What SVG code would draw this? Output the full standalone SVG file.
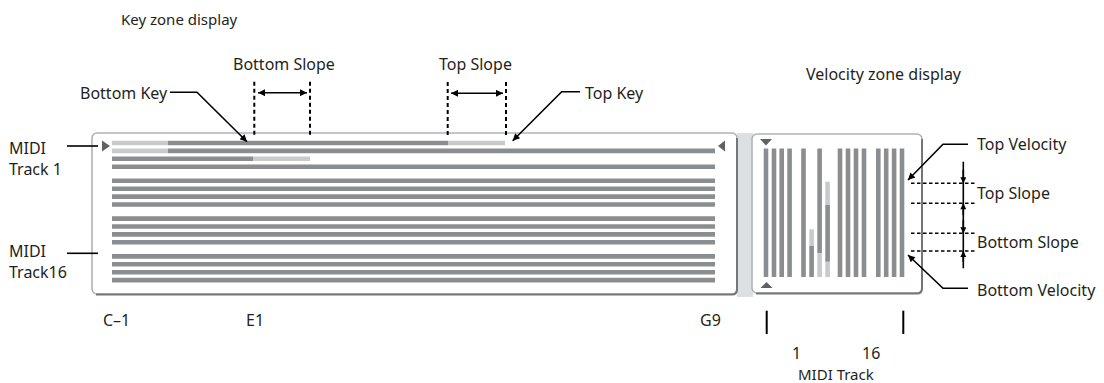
<svg xmlns="http://www.w3.org/2000/svg" width="1104" height="383" viewBox="0 0 1104 383">
<style>
text{font-family:"Noto Sans","Open Sans",sans-serif;font-size:16px;fill:#231f20}
.t{font-size:15px}
.dk{stroke:#8a8e90;stroke-width:4.6;fill:none}
.lt{stroke:#c7cbcc;stroke-width:4.6;fill:none}
.vdk{stroke:#8a8e90;stroke-width:4.6;fill:none}
.vlt{stroke:#c7cbcc;stroke-width:4.6;fill:none}
.lead{stroke:#000;stroke-width:1.6;fill:none}
.dv{stroke:#000;stroke-width:2;stroke-dasharray:4 3;fill:none}
.dh{stroke:#000;stroke-width:1.4;stroke-dasharray:3.5 2.5;fill:none}
.tick{stroke:#000;stroke-width:2}
.frame{fill:#fff;stroke:#b0b3b5;stroke-width:1.6}
.shadow{fill:none;stroke:#74777a;stroke-width:2}
.tri{fill:#5e6264}
</style>
<defs>
<marker id="ah" viewBox="0 0 10 10" refX="10" refY="5" markerUnits="userSpaceOnUse" markerWidth="9" markerHeight="7" orient="auto-start-reverse">
<path d="M0,0 L10,5 L0,10 z" fill="#000"/>
</marker>
<marker id="ahs" viewBox="0 0 10 10" refX="10" refY="5" markerUnits="userSpaceOnUse" markerWidth="7" markerHeight="6" orient="auto-start-reverse">
<path d="M0,0 L10,5 L0,10 z" fill="#000"/>
</marker>
</defs>

<!-- titles -->
<text id="title-key" class="t" x="121" y="25">Key zone display</text>
<text id="title-vel" x="806" y="80">Velocity zone display</text>

<!-- separator strip -->
<rect x="737" y="133" width="16" height="164" fill="#dde0e2"/>

<!-- key zone panel -->
<g id="keyzone-panel">
<rect class="frame" x="92" y="133" width="645" height="161" rx="5"/>
<path class="shadow" d="M96,294.5 H732 Q737,294.5 737,289.5 V138"/>
<path class="tri" d="M102,140.5 L110,146 L102,151.5 z"/>
<path class="tri" d="M718,146 L725,140.5 L725,151.5 z"/>
<g id="key-rows">
<path class="lt" d="M112,143 H168 M448,143 H505"/>
<path class="dk" d="M168,143 H448"/>
<path class="lt" d="M112,150.9 H168"/>
<path class="dk" d="M168,150.9 H715"/>
<path class="dk" d="M112,158.8 H253"/>
<path class="lt" d="M253,158.8 H310"/>
<path class="dk" d="M112,166.7 H715"/>
<path class="dk" d="M112,180.8 H715 M112,188.7 H715 M112,196.6 H715 M112,204.5 H715"/>
<path class="dk" d="M112,218.6 H715 M112,226.5 H715 M112,234.4 H715 M112,242.3 H715"/>
<path class="dk" d="M112,256.4 H715 M112,264.3 H715 M112,272.2 H715 M112,280.1 H715"/>
</g>
</g>

<!-- velocity zone panel -->
<g id="velocity-panel">
<rect class="frame" x="752" y="134" width="170" height="159" rx="5"/>
<path class="shadow" d="M756,293.5 H917 Q922,293.5 922,288.5 V139"/>
<path class="tri" d="M760,139 L772,139 L766,145.5 z"/>
<path class="tri" d="M760.5,288 L772.5,288 L766.5,282 z"/>
<g id="vel-bars">
<path class="vdk" d="M766,148.5 V277 M774,148.5 V277 M781.7,148.5 V277 M789.6,148.5 V277"/>
<path class="vdk" d="M803.5,148.5 V277"/>
<path class="vlt" d="M811.6,229.3 V246"/>
<path class="vdk" d="M811.6,246 V277"/>
<path class="vdk" d="M819.6,148.5 V253.3"/>
<path class="vlt" d="M819.6,253.3 V277"/>
<path class="vlt" d="M827.6,181.7 V205 M827.6,261.7 V277"/>
<path class="vdk" d="M827.6,205 V261.7"/>
<path class="vdk" d="M840,148.5 V277 M848,148.5 V277 M856,148.5 V277 M864,148.5 V277"/>
<path class="vdk" d="M878.3,148.5 V277 M886.2,148.5 V277 M894.1,148.5 V277 M902,148.5 V277"/>
</g>
</g>

<!-- labels -->
<g id="lbl-bottom-key"><text x="80" y="99">Bottom Key</text></g>
<g id="lbl-bottom-slope"><text x="233" y="70">Bottom Slope</text></g>
<g id="lbl-top-slope"><text x="439" y="70">Top Slope</text></g>
<g id="lbl-top-key"><text x="585" y="99">Top Key</text></g>
<g id="lbl-midi1"><text x="9" y="154">MIDI</text><text x="9" y="175">Track 1</text></g>
<g id="lbl-midi16"><text x="9" y="257">MIDI</text><text x="9" y="278">Track16</text></g>
<g id="lbl-top-velocity"><text x="977" y="150">Top Velocity</text></g>
<g id="lbl-vel-top-slope"><text x="977" y="199">Top Slope</text></g>
<g id="lbl-vel-bottom-slope"><text x="977" y="248">Bottom Slope</text></g>
<g id="lbl-bottom-velocity"><text x="977" y="296">Bottom Velocity</text></g>
<g id="lbl-c-1"><text x="103" y="326">C–1</text></g>
<g id="lbl-e1"><text x="246" y="326">E1</text></g>
<g id="lbl-g9"><text x="700" y="326">G9</text></g>
<g id="lbl-track-axis"><text x="792" y="358.5">1</text><text x="862" y="358.5">16</text><text x="798" y="380" style="font-size:15px">MIDI Track</text></g>

<!-- connectors -->
<g id="connectors">
<polyline class="lead" points="170,92.3 197,92.3 247,141.7" marker-end="url(#ah)"/>
<polyline class="lead" points="580,91.7 561.7,91.7 512.7,140.7" marker-end="url(#ah)"/>
<line class="dv" x1="254.3" y1="81.7" x2="254.3" y2="137"/>
<line class="dv" x1="310" y1="81.7" x2="310" y2="137"/>
<line class="lead" x1="258" y1="92.7" x2="307" y2="92.7" marker-start="url(#ah)" marker-end="url(#ah)"/>
<line class="dv" x1="447.7" y1="82" x2="447.7" y2="137"/>
<line class="dv" x1="506" y1="82" x2="506" y2="137"/>
<line class="lead" x1="451" y1="93.3" x2="503" y2="93.3" marker-start="url(#ah)" marker-end="url(#ah)"/>
<line class="lead" x1="67" y1="146" x2="98" y2="146"/>
<line class="lead" x1="67" y1="253.3" x2="98" y2="253.3"/>
<polyline class="lead" points="968,144.3 943,144.3 908,180" marker-end="url(#ah)"/>
<polyline class="lead" points="968,288.3 943,288.3 908,255" marker-end="url(#ah)"/>
<line class="dh" x1="911" y1="183.3" x2="975" y2="183.3"/>
<line class="dh" x1="911" y1="203.3" x2="975" y2="203.3"/>
<line class="dh" x1="911" y1="233.3" x2="975" y2="233.3"/>
<line class="dh" x1="911" y1="251" x2="975" y2="251"/>
<line class="lead" x1="963.3" y1="161.7" x2="963.3" y2="268.3"/>
<line class="lead" x1="963.3" y1="170" x2="963.3" y2="183.3" marker-end="url(#ahs)"/>
<line class="lead" x1="963.3" y1="215" x2="963.3" y2="203.3" marker-end="url(#ahs)"/>
<line class="lead" x1="963.3" y1="220" x2="963.3" y2="233.3" marker-end="url(#ahs)"/>
<line class="lead" x1="963.3" y1="262" x2="963.3" y2="251" marker-end="url(#ahs)"/>
<line class="tick" x1="766.7" y1="310.7" x2="766.7" y2="334"/>
<line class="tick" x1="903.3" y1="310.7" x2="903.3" y2="334"/>
</g>
</svg>
